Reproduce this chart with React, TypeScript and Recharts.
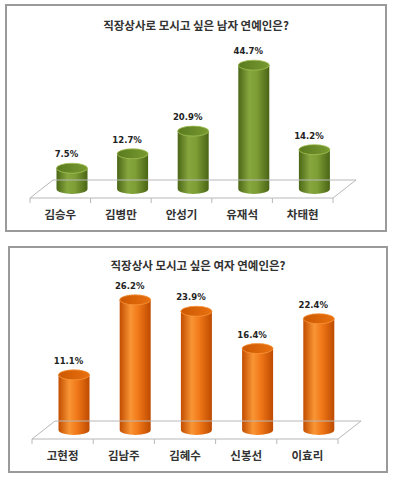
import React from "react";
import { BarChart, Bar, XAxis, YAxis, LabelList } from "recharts";

const maleNames = ["김승우", "김병만", "안성기", "유재석", "차태현"];
const maleValues = [7.5, 12.7, 20.9, 44.7, 14.2];
const femaleNames = ["고현정", "김남주", "김혜수", "신봉선", "이효리"];
const femaleValues = [11.1, 26.2, 23.9, 16.4, 22.4];
const maleTitle = "직장상사로 모시고 싶은 남자 연예인은?";
const femaleTitle = "직장상사 모시고 싶은 여자 연예인은?";

const DX = 23;
const DY = 18;
const FONT = "'Noto Sans CJK KR', 'Noto Sans', sans-serif";

type Palette = { id: string; body: string[]; top: string[]; rim: string };

const green: Palette = {
  id: "g",
  body: ["#4b6716", "#86a63e", "#7d9d35", "#4a6515"],
  top: ["#5a7a1e", "#789a30"],
  rim: "#a2c055",
};
const orange: Palette = {
  id: "o",
  body: ["#c24d00", "#f99535", "#f17818", "#bd4a00"],
  top: ["#cc5800", "#e87010"],
  rim: "#f8963a",
};

function makeCylinder(p: Palette) {
  return (props: any) => {
    const { x, y, width, height, index } = props;
    if (x == null || y == null) return null;
    const rx = width / 2;
    const ry = 5;
    const cx = x + rx + DX / 2;
    const top = y - DY / 2;
    const bottom = y + height - DY / 2;
    const x0 = cx - rx;
    const x1 = cx + rx;
    const bid = `${p.id}b${index}`;
    const tid = `${p.id}t${index}`;
    const d = `M${x0},${top} L${x0},${bottom} A${rx},${ry} 0 0 0 ${x1},${bottom} L${x1},${top} Z`;
    return (
      <g>
        <defs>
          <linearGradient id={bid} x1="0" y1="0" x2="1" y2="0">
            <stop offset="0" stopColor={p.body[0]} />
            <stop offset="0.35" stopColor={p.body[1]} />
            <stop offset="0.6" stopColor={p.body[2]} />
            <stop offset="1" stopColor={p.body[3]} />
          </linearGradient>
          <linearGradient id={tid} x1="0" y1="0" x2="1" y2="0">
            <stop offset="0" stopColor={p.top[0]} />
            <stop offset="1" stopColor={p.top[1]} />
          </linearGradient>
        </defs>
        <path d={d} fill={`url(#${bid})`} />
        <ellipse cx={cx} cy={top} rx={rx} ry={ry} fill={`url(#${tid})`} stroke={p.rim} strokeWidth={0.8} />
      </g>
    );
  };
}

function makeTick(n: number, fallbackHalf: number) {
  return (props: any) => {
    const { x, y, payload } = props;
    const o = payload && payload.offset ? payload.offset : fallbackHalf;
    const idx = payload ? payload.index : 0;
    const last = idx === n - 1;
    const stroke = "#b8b8b8";
    return (
      <g>
        <line x1={x - o} y1={y} x2={x + o} y2={y} stroke={stroke} strokeWidth={1} />
        <line x1={x - o + DX} y1={y - DY} x2={x + o + DX} y2={y - DY} stroke={stroke} strokeWidth={1} />
        <line x1={x - o} y1={y} x2={x - o} y2={y + 5} stroke={stroke} strokeWidth={1} />
        {last && <line x1={x + o} y1={y} x2={x + o} y2={y + 5} stroke={stroke} strokeWidth={1} />}
        {idx === 0 && <line x1={x - o} y1={y} x2={x - o + DX} y2={y - DY} stroke={stroke} strokeWidth={1} />}
        {last && <line x1={x + o} y1={y} x2={x + o + DX} y2={y - DY} stroke={stroke} strokeWidth={1} />}
        <text x={x} y={y + 21} textAnchor="middle" fontFamily={FONT} fontSize={11.5} fontWeight="bold" fill="#333">
          {payload.value}
        </text>
      </g>
    );
  };
}

function valueLabel(props: any) {
  const { x, y, width, value } = props;
  return (
    <text x={x + width / 2 + 6} y={y - DY / 2 - 11} textAnchor="middle" fontFamily="'DejaVu Sans', sans-serif" fontSize={8.5} fontWeight="bold" fill="#222">
      {value.toFixed(1)}%
    </text>
  );
}

function Panel({ left, top, w, h, title, titleY, names, values, max, margin, palette }: any) {
  const data = names.map((name: string, i: number) => ({ name, value: values[i] }));
  const half = (w - margin.left - margin.right) / names.length / 2;
  const Cyl = makeCylinder(palette);
  return (
    <>
      <div
        style={{
          position: "absolute",
          left,
          top,
          width: w,
          height: h,
          boxSizing: "border-box",
          border: "2px solid #9a9a9a",
          background: "#fff",
        }}
      />
      <div
        style={{
          position: "absolute",
          left,
          top: top + titleY - 8,
          width: w,
          textAlign: "center",
          fontFamily: FONT,
          fontSize: 11.5,
          fontWeight: "bold",
          color: "#333",
          lineHeight: "16px",
        }}
      >
        {title}
      </div>
      <div style={{ position: "absolute", left, top }}>
        <BarChart width={w} height={h} data={data} margin={margin}>
          <XAxis
            dataKey="name"
            axisLine={false}
            tickLine={false}
            tickSize={0}
            tickMargin={0}
            height={30}
            interval={0}
            tick={makeTick(names.length, half)}
          />
          <YAxis hide domain={[0, max]} />
          <Bar dataKey="value" barSize={31} isAnimationActive={false} shape={Cyl}>
            <LabelList dataKey="value" content={valueLabel} />
          </Bar>
        </BarChart>
      </div>
    </>
  );
}

export default function App() {
  return (
    <div style={{ position: "absolute", left: 0, top: 0, width: 393, height: 480, background: "#fff" }}>
      <Panel
        left={5}
        top={4}
        w={382}
        h={228}
        title={maleTitle}
        titleY={21}
        names={maleNames}
        values={maleValues}
        max={50}
        margin={{ top: 55.5, right: 54, bottom: 4, left: 25 }}
        palette={green}
      />
      <Panel
        left={8}
        top={246}
        w={380}
        h={227}
        title={femaleTitle}
        titleY={19}
        names={femaleNames}
        values={femaleValues}
        max={30}
        margin={{ top: 44, right: 50, bottom: 4, left: 24 }}
        palette={orange}
      />
    </div>
  );
}
